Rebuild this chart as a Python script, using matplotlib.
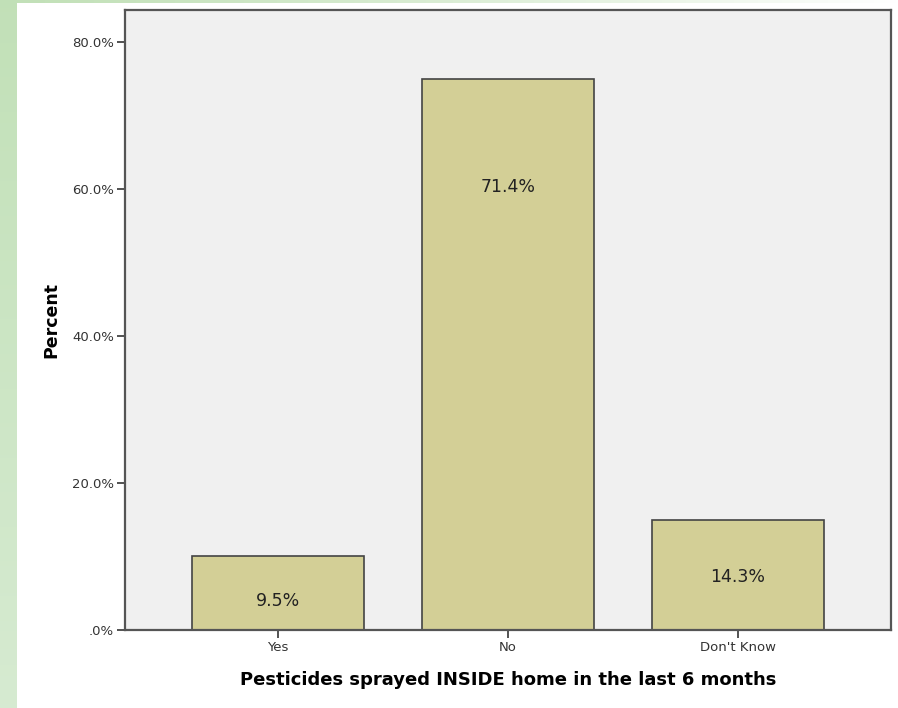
import matplotlib.pyplot as plt
import numpy as np

categories = ['Yes', 'No', "Don't Know"]
bar_pct = [10.0, 75.0, 15.0]        # heights as drawn
label_txt = ['9.5%', '71.4%', '14.3%']
label_y = [3.9, 60.3, 7.2]          # where the value labels sit
yticks = [0, 20, 40, 60, 80]
ytick_labels = ['.0%', '20.0%', '40.0%', '60.0%', '80.0%']

W, H = 898, 708
fig = plt.figure(figsize=(W/100, H/100), dpi=100)
fig.patch.set_facecolor('white')

# green frame: left strip and fading top strip
bg = fig.add_axes([0, 0, 1, 1], zorder=-10)
bg.set_axis_off()
green = np.array([0.76, 0.88, 0.72])
light = np.array([0.84, 0.92, 0.82])
grad = np.linspace(0, 1, 256)
img = np.zeros((1, 256, 3))
for k in range(3):
    img[0, :, k] = green[k] + (1 - green[k]) * grad**1.3
bg.imshow(img, extent=[0, W, 3, 0], aspect='auto')
vgrad = np.zeros((256, 1, 3))
for k in range(3):
    vgrad[:, 0, k] = green[k] + (light[k] - green[k]) * grad
bg.imshow(vgrad, extent=[0, 17, H, 0], aspect='auto')
bg.set_xlim(0, W); bg.set_ylim(H, 0)

ax = fig.add_axes([125/W, 1 - 630/H, (891-125)/W, (630-10)/H])
ax.set_facecolor('#f0f0f0')
x = np.arange(len(categories))
ax.bar(x, bar_pct, width=0.748, color='#d3cf96', edgecolor='#444444', linewidth=1.2, zorder=2)
for xi, t, yl in zip(x, label_txt, label_y):
    ax.text(xi, yl, t, ha='center', va='center', fontsize=12.5, color='#222222', zorder=3)

ax.set_xlim(-0.665, 2.665)
ax.set_ylim(0, 84.35)
ax.set_xticks(x)
ax.set_xticklabels(categories, fontsize=9.5, color='#333333')
ax.set_yticks(yticks)
ax.set_yticklabels(ytick_labels, fontsize=9.5, color='#333333')
ax.tick_params(axis='both', direction='out', length=6, width=1.3, color='#444444', pad=2)
for s in ax.spines.values():
    s.set_color('#555555')
    s.set_linewidth(1.6)

ax.set_xlabel('Pesticides sprayed INSIDE home in the last 6 months', fontsize=13,
              fontweight='bold', labelpad=12)
ax.set_ylabel('Percent', fontsize=12.5, fontweight='bold', labelpad=8)

fig.savefig('out.png', dpi=100)
